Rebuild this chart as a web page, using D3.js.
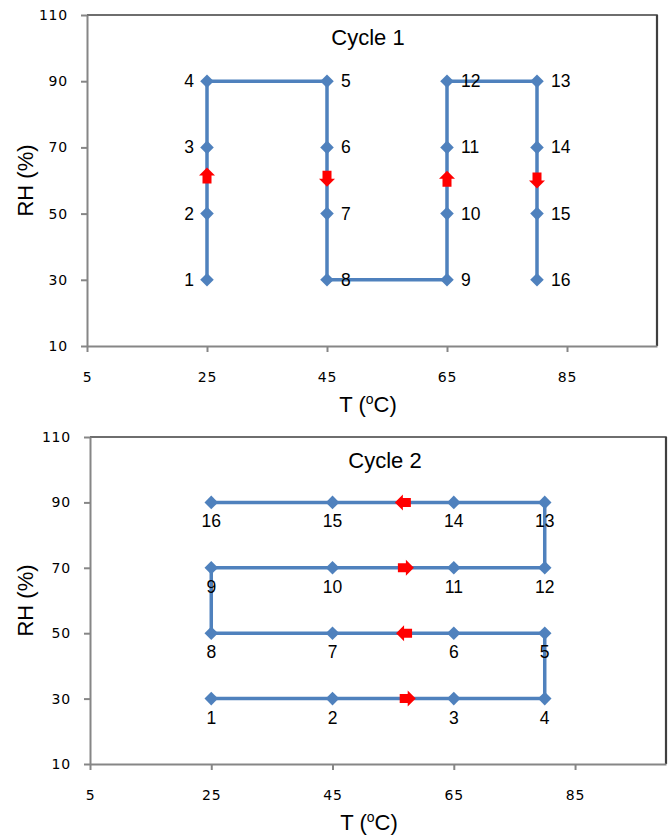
<!DOCTYPE html>
<html>
<head>
<meta charset="utf-8">
<script src="https://cdn.jsdelivr.net/npm/d3@7/dist/d3.min.js"></script>
<style>
  html, body { margin: 0; padding: 0; background: #fff; }
  svg { display: block; }
</style>
</head>
<body>
<svg id="chart" width="669" height="835"></svg>
<script>
// Temperature / humidity test sequences, two cycles
const xTicks = [5, 25, 45, 65, 85];
const yTicks = [10, 30, 50, 70, 90, 110];
const xDomain = [5, 100];
const yDomain = [10, 110];

// Cycle 1: steps through RH at each temperature
const cycle1Labels = ["1","2","3","4","5","6","7","8","9","10","11","12","13","14","15","16"];
const cycle1T  = [25, 25, 25, 25, 45, 45, 45, 45, 65, 65, 65, 65, 80, 80, 80, 80];
const cycle1RH = [30, 50, 70, 90, 90, 70, 50, 30, 30, 50, 70, 90, 90, 70, 50, 30];
const cycle1ArrowT   = [25, 45, 65, 80];
const cycle1ArrowRH  = [61.5, 60.5, 60.5, 60];
const cycle1ArrowDir = ["up", "down", "up", "down"];

// Cycle 2: steps through temperature at each RH
const cycle2Labels = ["1","2","3","4","5","6","7","8","9","10","11","12","13","14","15","16"];
const cycle2T  = [25, 45, 65, 80, 80, 65, 45, 25, 25, 45, 65, 80, 80, 65, 45, 25];
const cycle2RH = [30, 30, 30, 30, 50, 50, 50, 50, 70, 70, 70, 70, 90, 90, 90, 90];
const cycle2ArrowT   = [57.4, 56.8, 57.1, 56.6];
const cycle2ArrowRH  = [30, 50, 70, 90];
const cycle2ArrowDir = ["right", "left", "right", "left"];

const svg = d3.select("#chart");
const lineColor = "#4F81BD";
const axisColor = "#868686";
const labelFont = "'Liberation Sans', Arial, sans-serif";
const tickFont = "'DejaVu Sans', Verdana, sans-serif";

const arrowRotation = { right: 0, down: 90, left: 180, up: -90 };
const arrowPath = "M-8,-4.5 L0,-4.5 L0,-8 L8,0 L0,8 L0,4.5 L-8,4.5 Z";

function drawChart(cfg) {
  const x = d3.scaleLinear().domain(xDomain).range([cfg.left, cfg.right]);
  const y = d3.scaleLinear().domain(yDomain).range([cfg.bottom, cfg.top]);
  const g = svg.append("g");

  // plot-area frame
  g.append("path")
    .attr("d", `M${cfg.left},${cfg.top} H${cfg.right} V${cfg.bottom}`)
    .attr("fill", "none").attr("stroke", "#3f3f3f").attr("stroke-width", 1.5);
  g.append("line")
    .attr("x1", cfg.right).attr("x2", cfg.right)
    .attr("y1", cfg.top).attr("y2", cfg.bottom)
    .attr("stroke", "#3f3f3f").attr("stroke-width", 2.2);

  // axes
  const yAxis = g.append("g")
    .attr("transform", `translate(${cfg.left},0)`)
    .call(d3.axisLeft(y).tickValues(yTicks).tickSize(6).tickSizeOuter(0).tickPadding(13));
  const xAxis = g.append("g")
    .attr("transform", `translate(0,${cfg.bottom})`)
    .call(d3.axisBottom(x).tickValues(xTicks).tickSize(6).tickSizeOuter(0).tickPadding(20));
  [xAxis, yAxis].forEach(a => {
    a.select(".domain").attr("stroke", axisColor).attr("stroke-width", 2);
    a.selectAll(".tick line").attr("stroke", axisColor).attr("stroke-width", 2);
    a.selectAll(".tick text")
      .attr("fill", "#000")
      .style("font-family", tickFont)
      .style("font-size", "14px")
      .style("letter-spacing", "0.8px");
  });

  // path through the test points
  const pts = cfg.T.map((t, i) => [t, cfg.RH[i]]);
  g.append("path")
    .datum(pts)
    .attr("d", d3.line().x(d => x(d[0])).y(d => y(d[1])))
    .attr("fill", "none")
    .attr("stroke", lineColor)
    .attr("stroke-width", 3.5)
    .attr("stroke-linejoin", "miter");

  // diamond markers
  g.selectAll(".pt").data(pts).join("path")
    .attr("class", "pt")
    .attr("d", d3.symbol(d3.symbolSquare, 92)())
    .attr("transform", d => `translate(${x(d[0])},${y(d[1])}) rotate(45)`)
    .attr("fill", lineColor);

  // direction arrows
  const arrows = cfg.arrowT.map((t, i) => ({ t, rh: cfg.arrowRH[i], dir: cfg.arrowDir[i] }));
  g.selectAll(".arrow").data(arrows).join("path")
    .attr("class", "arrow")
    .attr("d", arrowPath)
    .attr("transform", d => `translate(${x(d.t)},${y(d.rh)}) rotate(${arrowRotation[d.dir]})`)
    .attr("fill", "#FF0000");

  // point labels
  g.selectAll(".lbl").data(pts).join("text")
    .attr("class", "lbl")
    .each(function (d, i) {
      const side = cfg.labelSide(i);
      const el = d3.select(this);
      if (side === "left") {
        el.attr("x", x(d[0]) - 13).attr("y", y(d[1]) + 6).attr("text-anchor", "end");
      } else if (side === "right") {
        el.attr("x", x(d[0]) + 14).attr("y", y(d[1]) + 6).attr("text-anchor", "start");
      } else {
        el.attr("x", x(d[0])).attr("y", y(d[1]) + 25).attr("text-anchor", "middle");
      }
    })
    .text((d, i) => cfg.labels[i])
    .style("font-family", labelFont)
    .style("font-size", "17.5px")
    .attr("fill", "#000");

  // title
  g.append("text")
    .attr("x", cfg.titleX).attr("y", cfg.titleY)
    .attr("text-anchor", "middle")
    .style("font-family", labelFont).style("font-size", "22px")
    .text(cfg.title);

  // axis titles
  const xt = g.append("text")
    .attr("x", cfg.xTitleX).attr("y", cfg.bottom + 66)
    .attr("text-anchor", "middle")
    .style("font-family", labelFont).style("font-size", "22px");
  xt.append("tspan").text("T (");
  xt.append("tspan").text("o").attr("dy", -8).style("font-size", "14px");
  xt.append("tspan").text("C)").attr("dy", 8);

  g.append("text")
    .attr("transform", `translate(33,${(cfg.top + cfg.bottom) / 2}) rotate(-90)`)
    .attr("text-anchor", "middle")
    .style("font-family", labelFont).style("font-size", "22px")
    .text("RH (%)");
}

drawChart({
  left: 87, right: 657, top: 15, bottom: 346,
  T: cycle1T, RH: cycle1RH, labels: cycle1Labels,
  arrowT: cycle1ArrowT, arrowRH: cycle1ArrowRH, arrowDir: cycle1ArrowDir,
  labelSide: i => (i < 4 ? "left" : "right"),
  title: "Cycle 1", titleX: 368, titleY: 45, xTitleX: 368
});

drawChart({
  left: 90, right: 666, top: 437, bottom: 764,
  T: cycle2T, RH: cycle2RH, labels: cycle2Labels,
  arrowT: cycle2ArrowT, arrowRH: cycle2ArrowRH, arrowDir: cycle2ArrowDir,
  labelSide: () => "below",
  title: "Cycle 2", titleX: 385, titleY: 468, xTitleX: 369
});
</script>
</body>
</html>
